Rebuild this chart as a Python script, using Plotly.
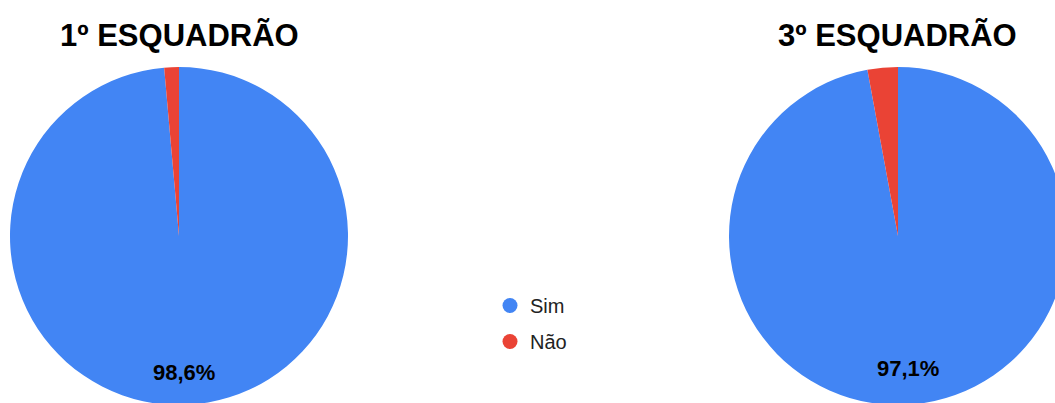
import plotly.graph_objects as go

categories = ["Sim", "Não"]
colors = ["#4285F4", "#EA4335"]
esq1_values = [98.6, 1.4]
esq3_values = [97.1, 2.9]
titles = ["1º ESQUADRÃO", "3º ESQUADRÃO"]

W, H = 1100, 420
FONT = "Arial, Liberation Sans, sans-serif"

def px_dom_x(a, b):
    return [a / W, b / W]

def px_dom_y(top, bottom):
    return [(H - bottom) / H, (H - top) / H]

fig = go.Figure()

pies = [
    (esq1_values, (10, 348), (184, 372)),
    (esq3_values, (729, 1067), (908, 368)),
]

for vals, (x0, x1), (lx, ly) in pies:
    fig.add_trace(go.Pie(
        labels=categories,
        values=vals,
        sort=False,
        direction="clockwise",
        rotation=0,
        marker=dict(colors=colors, line=dict(width=0)),
        textinfo="none",
        hoverinfo="label+percent",
        showlegend=False,
        domain=dict(x=px_dom_x(x0, x1), y=px_dom_y(67, 405)),
    ))
    pct = 100 * vals[0] / sum(vals)
    fig.add_annotation(
        text=f"{pct:.1f}%".replace(".", ","),
        x=lx / W, y=(H - ly) / H, xref="paper", yref="paper",
        xanchor="center", yanchor="middle", showarrow=False,
        font=dict(family=FONT, size=22, color="black", weight="bold"),
    )

for cat, col in zip(categories, colors):
    fig.add_trace(go.Scatter(
        x=[None], y=[None], mode="markers", name=cat,
        legendgroup=cat,
        marker=dict(color=col, size=15, symbol="circle"),
    ))

for t, cx in zip(titles, [179, 897]):
    fig.add_annotation(
        text=t, x=cx / W, y=(H - 35) / H, xref="paper", yref="paper",
        xanchor="center", yanchor="middle", showarrow=False,
        font=dict(family=FONT, size=31, color="black", weight="bold"),
    )

fig.update_layout(
    width=W, height=H,
    margin=dict(l=0, r=0, t=0, b=0),
    paper_bgcolor="white", plot_bgcolor="white",
    separators=",.",
    xaxis=dict(visible=False), yaxis=dict(visible=False),
    legend=dict(
        x=490 / W, y=(H - 286) / H, xanchor="left", yanchor="top",
        font=dict(family=FONT, size=20, color="#222222"),
        traceorder="grouped", tracegroupgap=7,
        bgcolor="rgba(0,0,0,0)",
    ),
)

fig.write_html(
    "out.html",
    config={"displayModeBar": False},
    post_script="document.documentElement.style.overflow='hidden';document.body.style.overflow='hidden';document.body.style.margin='0';",
)
